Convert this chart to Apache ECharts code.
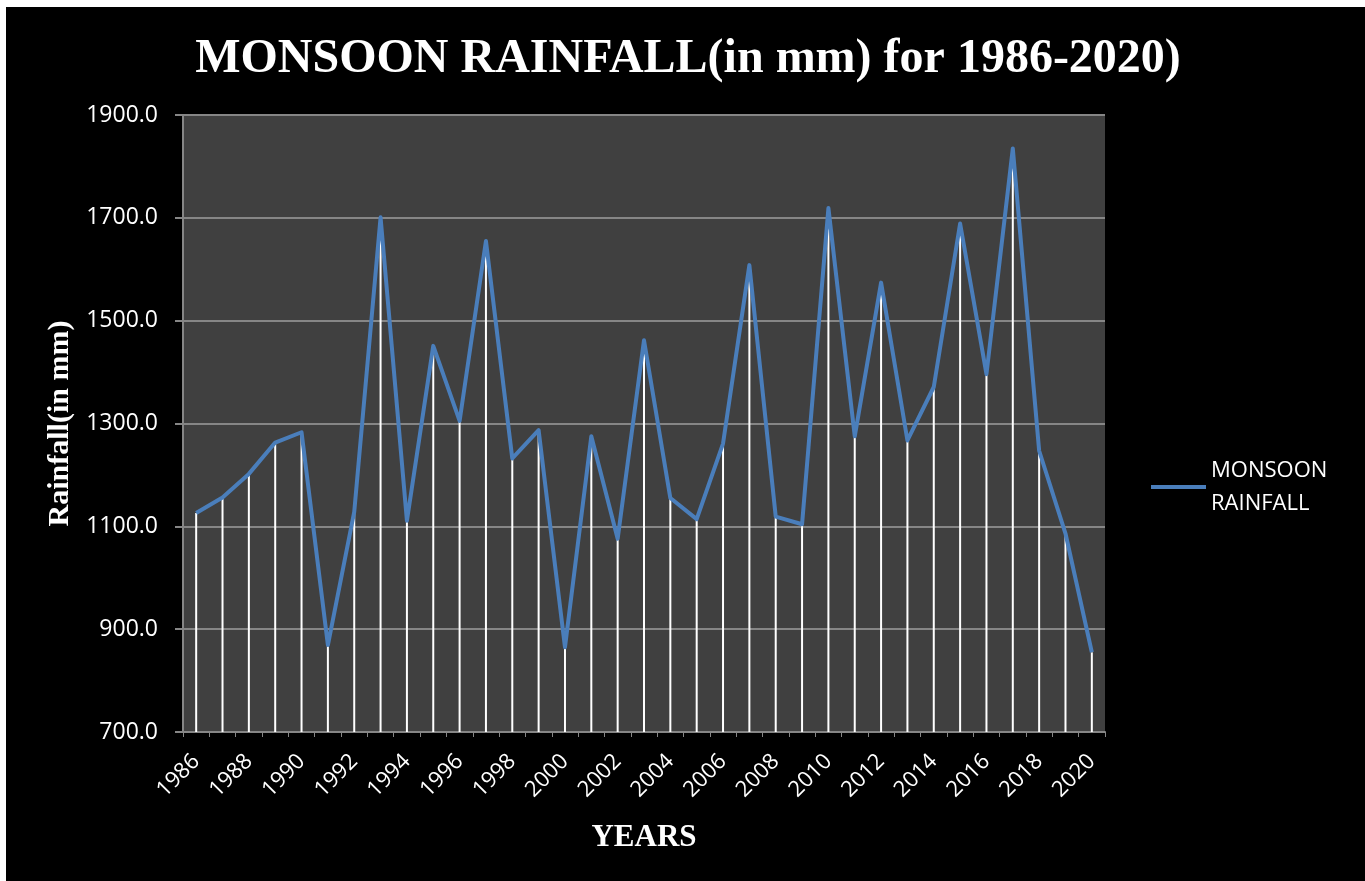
<!DOCTYPE html>
<html>
<head>
<meta charset="utf-8">
<script src="https://cdn.jsdelivr.net/npm/echarts@6/dist/echarts.min.js"></script>
<style>
html,body{margin:0;padding:0;background:#ffffff;width:1365px;height:881px;overflow:hidden;}
#c{position:absolute;left:6px;top:7px;width:1359px;height:874px;background:#000;}
</style>
</head>
<body>
<div id="c"></div>
<script>
const years = ['1986','1987','1988','1989','1990','1991','1992','1993','1994','1995','1996','1997','1998','1999','2000','2001','2002','2003','2004','2005','2006','2007','2008','2009','2010','2011','2012','2013','2014','2015','2016','2017','2018','2019','2020'];
const rainfall = [1126,1156,1202,1263,1283,869,1128,1701,1111,1451,1305,1655,1232,1287,865,1275,1076,1462,1155,1114,1261,1608,1119,1104,1719,1275,1574,1267,1371,1689,1396,1835,1247,1086,855];
const seriesName = 'MONSOON RAINFALL';
const yMin = 700, yMax = 1900, yStep = 200;

const chart = echarts.init(document.getElementById('c'));
chart.setOption({
  backgroundColor: '#000000',
  animation: false,
  title: {
    text: 'MONSOON RAINFALL(in mm) for 1986-2020)',
    left: 677, top: 24, textAlign: 'center',
    textStyle: {color:'#ffffff', fontFamily:'Liberation Serif', fontWeight:'bold', fontSize:48}
  },
  legend: {
    data: [{name: seriesName, icon: 'rect'}],
    left: 1140, top: 442,
    itemWidth: 55, itemHeight: 4, itemGap: 10,
    formatter: function(){ return 'MONSOON\nRAINFALL'; },
    textStyle: {color:'#ffffff', fontFamily:'Open Sans', fontSize:22, lineHeight:33, padding:[0,0,0,0]}
  },
  grid: {left: 177, top: 108, right: 260, bottom: 149, containLabel: false,
         show: true, backgroundColor: '#404040', borderWidth: 0},
  xAxis: {
    type: 'category', data: years, boundaryGap: true,
    name: 'YEARS', nameLocation: 'middle', nameGap: 90,
    nameTextStyle: {color:'#ffffff', fontFamily:'Liberation Serif', fontWeight:'bold', fontSize:31},
    axisLine: {lineStyle: {color:'#868686', width:2}},
    axisTick: {show: true, alignWithLabel: false, interval: 0, length: 5, lineStyle: {color:'#868686'}},
    axisLabel: {color:'#ffffff', fontFamily:'Open Sans', fontSize:22, rotate:45, interval:1, margin:26},
    splitLine: {show:false}
  },
  yAxis: {
    type: 'value', min: yMin, max: yMax, interval: yStep,
    name: 'Rainfall(in mm)', nameLocation: 'middle', nameGap: 108,
    nameTextStyle: {color:'#ffffff', fontFamily:'Liberation Serif', fontWeight:'bold', fontSize:30},
    axisLine: {show:true, lineStyle: {color:'#868686', width:2}},
    axisTick: {show:true, length: 8, lineStyle: {color:'#868686', width:2}},
    axisLabel: {color:'#ffffff', fontFamily:'Open Sans', fontSize:23, margin:25,
                formatter: function(v){ return v.toFixed(1); }},
    splitLine: {lineStyle: {color:'#868686', width:2}}
  },
  series: [
    {
      type: 'custom', name: 'drop', silent: true, z: 1,
      data: rainfall.map(function(v,i){ return [i, v]; }),
      renderItem: function(params, api){
        const top = api.coord([api.value(0), api.value(1)]);
        const bot = api.coord([api.value(0), yMin]);
        return {type:'line', shape:{x1:top[0], y1:top[1], x2:bot[0], y2:bot[1]},
                style:{stroke:'#ffffff', lineWidth:2}};
      }
    },
    {
      type: 'line', name: seriesName, data: rainfall, z: 3,
      showSymbol: false, symbol: 'none',
      lineStyle: {color:'#4A7EBB', width:4, join:'round'},
      itemStyle: {color:'#4A7EBB'}
    }
  ]
});
</script>
</body>
</html>
